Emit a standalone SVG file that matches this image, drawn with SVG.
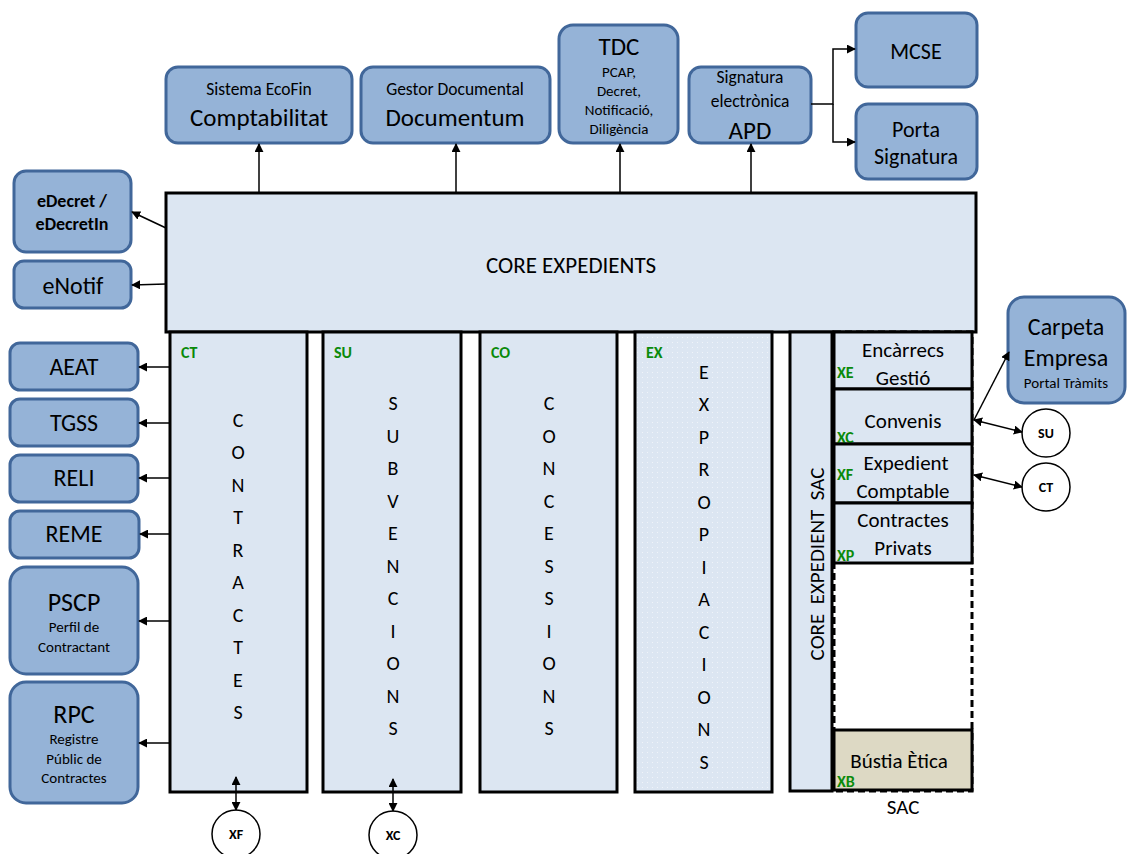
<svg xmlns="http://www.w3.org/2000/svg" width="1127" height="854" viewBox="0 0 1127 854">
<style>
text{font-family:Carlito,Lato,"Liberation Sans",sans-serif;fill:#000;text-anchor:middle}
.sys{fill:#95b3d7;stroke:#41679a;stroke-width:3}
.col{fill:#dce6f2;stroke:#000;stroke-width:3}
.sub{fill:#dce6f2;stroke:#000;stroke-width:3}
.cir{fill:#fff;stroke:#000;stroke-width:1.5}
.g{fill:#0a8a0a;font-weight:bold;font-size:16px;text-anchor:start}
.c{stroke:#000;stroke-width:1.5;fill:none}
.ltr{font-size:20px}
.b{font-weight:bold}
</style>
<defs>
<marker id="ah" viewBox="0 0 10 10" refX="9" refY="5" markerWidth="9" markerHeight="9" markerUnits="userSpaceOnUse" orient="auto-start-reverse">
<path d="M0,0 L10,5 L0,10 z" fill="#000"/>
</marker>
<pattern id="dots" width="5" height="5" patternUnits="userSpaceOnUse">
<rect width="5" height="5" fill="#dce6f2"/>
<circle cx="2.5" cy="2.5" r="0.6" fill="#f4f7fb"/>
</pattern>
</defs>

<g id="top-systems">
<g id="ecofin"><rect class="sys" x="166" y="67" width="186" height="76" rx="12"/>
<text x="259" y="95" font-size="17.5">Sistema EcoFin</text><text x="259" y="126" font-size="25">Comptabilitat</text></g>
<g id="documentum"><rect class="sys" x="361" y="67" width="189" height="76" rx="12"/>
<text x="455" y="95" font-size="17.5">Gestor Documental</text><text x="455" y="126" font-size="25">Documentum</text></g>
<g id="tdc"><rect class="sys" x="559" y="25" width="119" height="118" rx="14"/>
<text x="619" y="55" font-size="25">TDC</text>
<text x="619" y="77" font-size="15">PCAP,</text><text x="619" y="96" font-size="15">Decret,</text>
<text x="619" y="115" font-size="15">Notificació,</text><text x="619" y="134" font-size="15">Diligència</text></g>
<g id="apd"><rect class="sys" x="689" y="67" width="122" height="76" rx="12"/>
<text x="750" y="83" font-size="17.5">Signatura</text><text x="750" y="107" font-size="17.5">electrònica</text><text x="750" y="139" font-size="25">APD</text></g>
<g id="mcse"><rect class="sys" x="856" y="13" width="121" height="74" rx="12"/>
<text x="916" y="59" font-size="22">MCSE</text></g>
<g id="porta"><rect class="sys" x="856" y="104" width="121" height="75" rx="12"/>
<text x="916" y="137" font-size="22">Porta</text><text x="916" y="164" font-size="22">Signatura</text></g>
</g>

<g id="left-systems">
<g id="edecret"><rect class="sys" x="14" y="171" width="117" height="81" rx="12"/>
<text x="72" y="207" font-size="18" class="b">eDecret /</text><text x="72" y="230" font-size="18" class="b">eDecretIn</text></g>
<g id="enotif"><rect class="sys" x="14" y="261" width="117" height="47" rx="10"/>
<text x="73" y="294" font-size="24">eNotif</text></g>
<g id="aeat"><rect class="sys" x="10" y="343" width="128" height="47" rx="10"/><text x="74" y="375" font-size="24">AEAT</text></g>
<g id="tgss"><rect class="sys" x="10" y="399" width="128" height="47" rx="10"/><text x="74" y="431" font-size="24">TGSS</text></g>
<g id="reli"><rect class="sys" x="10" y="455" width="128" height="47" rx="10"/><text x="74" y="486" font-size="24">RELI</text></g>
<g id="reme"><rect class="sys" x="10" y="511" width="129" height="47" rx="10"/><text x="74" y="542" font-size="24">REME</text></g>
<g id="pscp"><rect class="sys" x="10" y="567" width="128" height="107" rx="16"/>
<text x="74" y="611" font-size="26">PSCP</text><text x="74" y="632" font-size="15">Perfil de</text><text x="74" y="652" font-size="15">Contractant</text></g>
<g id="rpc"><rect class="sys" x="10" y="682" width="128" height="121" rx="16"/>
<text x="74" y="723" font-size="26">RPC</text><text x="74" y="744" font-size="15">Registre</text><text x="74" y="764" font-size="15">Públic de</text><text x="74" y="783" font-size="15">Contractes</text></g>
</g>

<g id="carpeta"><rect class="sys" x="1008" y="297" width="117" height="106" rx="16"/>
<text x="1066" y="335" font-size="24">Carpeta</text><text x="1066" y="366" font-size="24">Empresa</text><text x="1066" y="388" font-size="15">Portal Tràmits</text></g>

<g id="core"><rect class="col" x="166" y="193" width="810" height="139"/>
<text x="571" y="273" font-size="23">CORE EXPEDIENTS</text></g>

<g id="col-ct"><rect class="col" x="170" y="332" width="137" height="460"/>
<text class="g" x="181" y="358">CT</text>
<g class="ltr"><text x="238" y="427">C</text><text x="238" y="459">O</text><text x="238" y="492">N</text><text x="238" y="524">T</text><text x="238" y="557">R</text><text x="238" y="589">A</text><text x="238" y="622">C</text><text x="238" y="654">T</text><text x="238" y="687">E</text><text x="238" y="719">S</text></g></g>

<g id="col-su"><rect class="col" x="323" y="332" width="138" height="460"/>
<text class="g" x="334" y="358">SU</text>
<g class="ltr"><text x="393" y="410">S</text><text x="393" y="443">U</text><text x="393" y="475">B</text><text x="393" y="508">V</text><text x="393" y="540">E</text><text x="393" y="573">N</text><text x="393" y="605">C</text><text x="393" y="638">I</text><text x="393" y="670">O</text><text x="393" y="703">N</text><text x="393" y="735">S</text></g></g>

<g id="col-co"><rect class="col" x="480" y="332" width="137" height="460"/>
<text class="g" x="491" y="358">CO</text>
<g class="ltr"><text x="549" y="410">C</text><text x="549" y="443">O</text><text x="549" y="475">N</text><text x="549" y="508">C</text><text x="549" y="540">E</text><text x="549" y="573">S</text><text x="549" y="605">S</text><text x="549" y="638">I</text><text x="549" y="670">O</text><text x="549" y="703">N</text><text x="549" y="735">S</text></g></g>

<g id="col-ex"><rect x="635" y="332" width="137" height="460" fill="url(#dots)" stroke="#000" stroke-width="3"/>
<text class="g" x="646" y="358">EX</text>
<g class="ltr"><text x="704" y="379">E</text><text x="704" y="411">X</text><text x="704" y="444">P</text><text x="704" y="476">R</text><text x="704" y="509">O</text><text x="704" y="541">P</text><text x="704" y="574">I</text><text x="704" y="606">A</text><text x="704" y="639">C</text><text x="704" y="671">I</text><text x="704" y="704">O</text><text x="704" y="736">N</text><text x="704" y="769">S</text></g></g>

<g id="sac-area"><rect x="834" y="332" width="138" height="459" fill="#fff" stroke="#000" stroke-width="3" stroke-dasharray="7 4"/>
<text x="903" y="814" font-size="21">SAC</text></g>

<g id="col-sac"><rect class="col" x="790" y="332" width="42" height="459"/>
<text transform="translate(824,564) rotate(-90)" font-size="21" xml:space="preserve">CORE  EXPEDIENT  SAC</text></g>

<g id="encarrecs"><rect class="sub" x="834" y="332" width="138" height="57"/>
<text x="903" y="357" font-size="21">Encàrrecs</text><text x="903" y="385" font-size="21">Gestió</text><text class="g" x="837" y="378">XE</text></g>
<g id="convenis"><rect class="sub" x="834" y="389" width="138" height="55"/>
<text x="903" y="428" font-size="21">Convenis</text><text class="g" x="837" y="443">XC</text></g>
<g id="expcomptable"><rect class="sub" x="834" y="444" width="138" height="59"/>
<text x="906" y="470" font-size="21">Expedient</text><text x="903" y="498" font-size="21">Comptable</text><text class="g" x="837" y="480">XF</text></g>
<g id="privats"><rect class="sub" x="834" y="503" width="138" height="60"/>
<text x="903" y="527" font-size="21">Contractes</text><text x="903" y="555" font-size="21">Privats</text><text class="g" x="837" y="561">XP</text></g>
<g id="bustia"><rect x="834" y="730" width="138" height="60" fill="#ddd9c4" stroke="#000" stroke-width="3"/>
<text x="899" y="768" font-size="21">Bústia Ètica</text><text class="g" x="837" y="787">XB</text></g>

<g id="circle-su"><circle class="cir" cx="1046" cy="433" r="24"/><text x="1046" y="438" font-size="14" class="b">SU</text></g>
<g id="circle-ct"><circle class="cir" cx="1046" cy="487" r="24"/><text x="1046" y="492" font-size="14" class="b">CT</text></g>
<g id="circle-xf"><circle class="cir" cx="236" cy="834" r="24"/><text x="236" y="839" font-size="14" class="b">XF</text></g>
<g id="circle-xc"><circle class="cir" cx="393" cy="835" r="24"/><text x="393" y="840" font-size="14" class="b">XC</text></g>

<g id="connectors">
<line class="c" x1="259" y1="192" x2="259" y2="144" marker-end="url(#ah)"/>
<line class="c" x1="456" y1="192" x2="456" y2="144" marker-end="url(#ah)"/>
<line class="c" x1="620" y1="192" x2="620" y2="144" marker-end="url(#ah)"/>
<line class="c" x1="751" y1="192" x2="751" y2="144" marker-end="url(#ah)"/>
<path class="c" d="M811,104 H833 V49 H855" marker-end="url(#ah)"/>
<path class="c" d="M833,104 V142 H855" marker-end="url(#ah)"/>
<line class="c" x1="166" y1="228" x2="132" y2="212" marker-end="url(#ah)"/>
<line class="c" x1="166" y1="284" x2="132" y2="285" marker-end="url(#ah)"/>
<line class="c" x1="170" y1="367" x2="139" y2="367" marker-end="url(#ah)"/>
<line class="c" x1="170" y1="423" x2="139" y2="423" marker-end="url(#ah)"/>
<line class="c" x1="170" y1="478" x2="139" y2="478" marker-end="url(#ah)"/>
<line class="c" x1="170" y1="534" x2="140" y2="534" marker-end="url(#ah)"/>
<line class="c" x1="170" y1="621" x2="139" y2="621" marker-end="url(#ah)"/>
<line class="c" x1="170" y1="743" x2="139" y2="743" marker-end="url(#ah)"/>
<line class="c" x1="236" y1="777" x2="236" y2="810" marker-start="url(#ah)" marker-end="url(#ah)"/>
<line class="c" x1="393" y1="779" x2="393" y2="811" marker-start="url(#ah)" marker-end="url(#ah)"/>
<line class="c" x1="974" y1="420" x2="1009" y2="352" marker-end="url(#ah)"/>
<line class="c" x1="974" y1="420" x2="1022" y2="432" marker-start="url(#ah)" marker-end="url(#ah)"/>
<line class="c" x1="974" y1="475" x2="1022" y2="487" marker-start="url(#ah)" marker-end="url(#ah)"/>
</g>
</svg>
